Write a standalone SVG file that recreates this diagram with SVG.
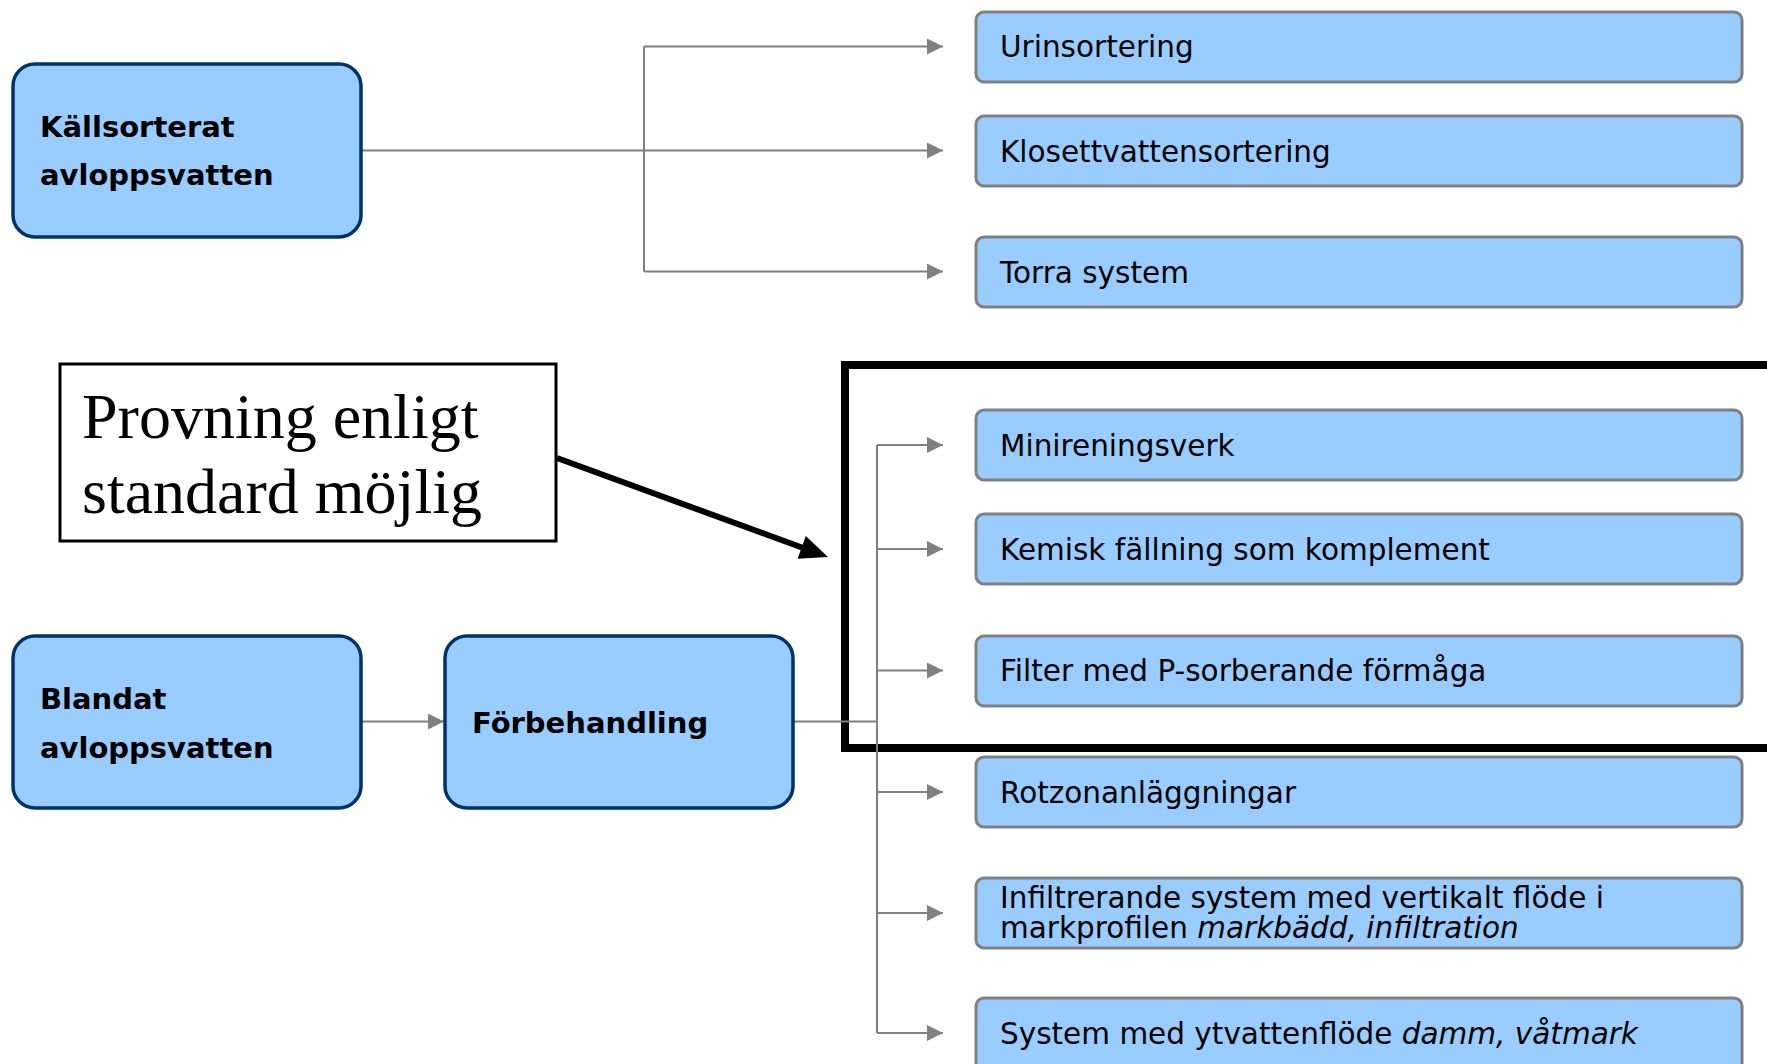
<svg xmlns="http://www.w3.org/2000/svg" width="1767" height="1064" viewBox="0 0 1767 1064">
<style>
.src{fill:#99CCFF;stroke:#003366;stroke-width:3.5}
.dst{fill:#99CCFF;stroke:#808080;stroke-width:3}
.bt{font-family:"DejaVu Sans","Liberation Sans",sans-serif;font-weight:bold;font-size:29px;fill:#000}
.rt{font-family:"DejaVu Sans","Liberation Sans",sans-serif;font-size:29.5px;fill:#000}
.it{font-style:italic}
.con{fill:none;stroke:#808080;stroke-width:2}
.arr{fill:none;stroke:#808080;stroke-width:2;marker-end:url(#ah)}
.serif{font-family:"Liberation Serif","Times New Roman",serif;font-size:64px;fill:#000}
</style>
<defs>
<marker id="ah" markerUnits="userSpaceOnUse" viewBox="0 0 16 16" markerWidth="16" markerHeight="16" refX="16" refY="8" orient="auto">
<path d="M0,0 L16,8 L0,16 z" fill="#808080"/>
</marker>
</defs>
<rect width="1767" height="1064" fill="#fff"/>

<g id="highlight-frame">
<rect x="845" y="365" width="960" height="383" fill="none" stroke="#000" stroke-width="8"/>
</g>

<g id="connectors">
<path class="con" d="M361,150.5 H644"/>
<path class="con" d="M644,46.5 V271.5"/>
<path class="arr" d="M644,46.5 H943"/>
<path class="arr" d="M644,150.5 H943"/>
<path class="arr" d="M644,271.5 H943"/>
<path class="arr" d="M361,721.5 H444"/>
<path class="con" d="M793,721.5 H877"/>
<path class="con" d="M877,445 V1033"/>
<path class="arr" d="M877,445 H943"/>
<path class="arr" d="M877,549 H943"/>
<path class="arr" d="M877,670.5 H943"/>
<path class="arr" d="M877,792 H943"/>
<path class="arr" d="M877,913 H943"/>
<path class="arr" d="M877,1033 H943"/>
<line x1="557" y1="458" x2="806" y2="549" stroke="#000" stroke-width="6"/>
<polygon points="828,557 797.6,558.7 805.8,536.1" fill="#000"/>
</g>

<g id="kallsorterat">
<rect class="src" x="13" y="64" width="348" height="173" rx="22"/>
<text class="bt" x="40" y="137">Källsorterat</text>
<text class="bt" x="40" y="185">avloppsvatten</text>
</g>

<g id="blandat">
<rect class="src" x="13" y="636" width="348" height="172" rx="22"/>
<text class="bt" x="40" y="709">Blandat</text>
<text class="bt" x="40" y="758">avloppsvatten</text>
</g>

<g id="forbehandling">
<rect class="src" x="445" y="636" width="348" height="172" rx="22"/>
<text class="bt" x="472" y="733">Förbehandling</text>
</g>

<g id="callout">
<rect x="60" y="364" width="496" height="177" fill="#fff" stroke="#000" stroke-width="3"/>
<text class="serif" x="82" y="438">Provning enligt</text>
<text class="serif" x="82" y="513">standard möjlig</text>
</g>

<g id="urinsortering">
<rect class="dst" x="976" y="12" width="766" height="70" rx="8"/>
<text class="rt" x="1000" y="57">Urinsortering</text>
</g>
<g id="klosett">
<rect class="dst" x="976" y="116" width="766" height="70" rx="8"/>
<text class="rt" x="1000" y="161.5">Klosettvattensortering</text>
</g>
<g id="torra">
<rect class="dst" x="976" y="237" width="766" height="70" rx="8"/>
<text class="rt" x="1000" y="282.5">Torra system</text>
</g>
<g id="minirening">
<rect class="dst" x="976" y="410" width="766" height="70" rx="8"/>
<text class="rt" x="1000" y="455.5">Minireningsverk</text>
</g>
<g id="kemisk">
<rect class="dst" x="976" y="514" width="766" height="70" rx="8"/>
<text class="rt" x="1000" y="560">Kemisk fällning som komplement</text>
</g>
<g id="filter">
<rect class="dst" x="976" y="636" width="766" height="70" rx="8"/>
<text class="rt" x="1000" y="681">Filter med P-sorberande förmåga</text>
</g>
<g id="rotzon">
<rect class="dst" x="976" y="757" width="766" height="70" rx="8"/>
<text class="rt" x="1000" y="802.5">Rotzonanläggningar</text>
</g>
<g id="infiltrerande">
<rect class="dst" x="976" y="878" width="766" height="70" rx="8"/>
<text class="rt" x="1000" y="907.5">Infiltrerande system med vertikalt flöde i</text>
<text class="rt" x="1000" y="938">markprofilen <tspan class="it">markbädd, infiltration</tspan></text>
</g>
<g id="ytvatten">
<rect class="dst" x="976" y="998" width="766" height="90" rx="8"/>
<text class="rt" x="1000" y="1044">System med ytvattenflöde <tspan class="it">damm, våtmark</tspan></text>
</g>
</svg>
